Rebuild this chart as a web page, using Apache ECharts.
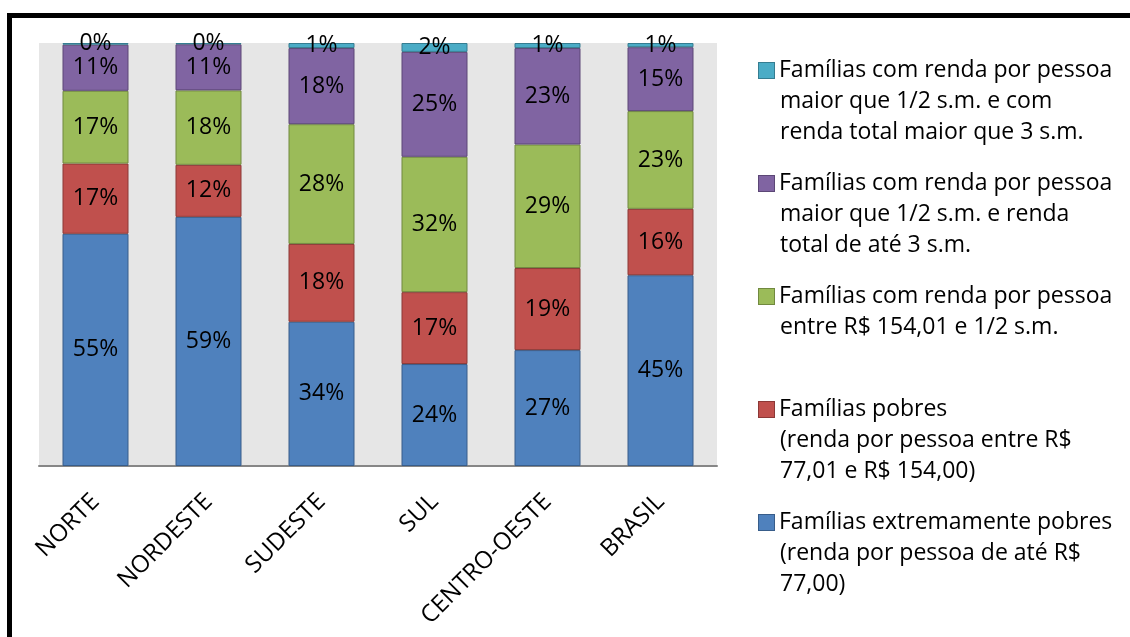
<!DOCTYPE html>
<html>
<head>
<meta charset="utf-8">
<script src="https://cdn.jsdelivr.net/npm/echarts@6/dist/echarts.min.js"></script>
<style>
html,body{margin:0;padding:0;background:#fff;overflow:hidden;}
#chart{position:absolute;left:0;top:0;width:1130px;height:637px;}
#frame{position:absolute;left:7px;top:13px;width:2000px;height:2000px;border:5px solid #000;pointer-events:none;}
</style>
</head>
<body>
<div id="frame"></div>
<div id="chart"></div>
<script>
const categories = ['NORTE', 'NORDESTE', 'SUDESTE', 'SUL', 'CENTRO-OESTE', 'BRASIL'];

const seriesNames = [
  'Famílias extremamente pobres\n(renda por pessoa de até R$\n77,00)',
  'Famílias pobres\n(renda por pessoa entre R$\n77,01 e R$ 154,00)',
  'Famílias com renda por pessoa\nentre R$ 154,01 e 1/2 s.m.\n',
  'Famílias com renda por pessoa\nmaior que 1/2 s.m. e renda\ntotal de até 3 s.m.',
  'Famílias com renda por pessoa\nmaior que 1/2 s.m. e com\nrenda total maior que 3 s.m.'
];

const extremamentePobres = [54.9, 58.9, 34.1, 24.1, 27.4, 45.1];
const pobres             = [16.6, 12.3, 18.4, 17.0, 19.4, 15.7];
const ateMeioSM          = [17.2, 17.6, 28.3, 32.0, 29.2, 23.1];
const ateTresSM          = [10.9, 10.9, 18.0, 24.8, 22.8, 15.1];
const maiorTresSM        = [0.4, 0.3, 1.2, 2.1, 1.2, 1.0];

const seriesValues = [extremamentePobres, pobres, ateMeioSM, ateTresSM, maiorTresSM];
const colors = ['#4f81bd', '#c0504d', '#9bbb59', '#8064a2', '#4bacc6'];
const borders = ['#385d8a', '#8c3836', '#71893f', '#5c4776', '#357d91'];

const FONT = 'Open Sans';
const LH = 31;

const rich = {
  t: { fontFamily: FONT, fontSize: 23, lineHeight: LH, color: '#000' },
  ind: { width: 21, height: 14, lineHeight: LH },
  g: { width: 5, height: 14, lineHeight: LH }
};
colors.forEach((c, i) => {
  rich['sq' + i] = { width: 15, height: 15, backgroundColor: c, borderColor: borders[i], borderWidth: 1, lineHeight: LH };
});

const chart = echarts.init(document.getElementById('chart'), null, { renderer: 'canvas' });

chart.setOption({
  animation: false,
  grid: {
    left: 39, right: 413, top: 43, bottom: 171,
    show: true, backgroundColor: '#e6e6e6', borderWidth: 0
  },
  legend: {
    orient: 'vertical',
    left: 753,
    top: 59,
    padding: 0,
    itemGap: 28,
    itemWidth: 0,
    itemHeight: 0,
    icon: 'rect',
    selectedMode: false,
    data: seriesNames.slice().reverse(),
    formatter: function (name) {
      const idx = seriesNames.indexOf(name);
      const lines = name.split('\n');
      return lines.map((ln, i) => {
        const head = i === 0 ? '{sq' + idx + '|}{g|}' : '{ind|}';
        return ln.length ? head + '{t|' + ln + '}' : '{ind|}';
      }).join('\n');
    },
    textStyle: { rich: rich, fontFamily: FONT, fontSize: 23, color: '#000' }
  },
  xAxis: {
    type: 'category',
    data: categories,
    axisLine: { lineStyle: { color: '#868686', width: 2 } },
    axisTick: { show: false },
    axisLabel: {
      interval: 0, rotate: 45, margin: 32,
      fontFamily: FONT, fontSize: 24, color: '#000'
    }
  },
  yAxis: {
    type: 'value', min: 0, max: 100, show: false,
    splitLine: { show: false }
  },
  series: seriesValues.map((vals, i) => ({
    name: seriesNames[i],
    type: 'bar',
    stack: 'total',
    barWidth: 66,
    data: vals,
    itemStyle: { color: colors[i], borderColor: borders[i], borderWidth: 1 },
    label: {
      show: true,
      position: 'inside',
      fontFamily: FONT,
      fontSize: 23,
      color: '#000',
      formatter: p => Math.round(p.value) + '%'
    }
  }))
});
</script>
</body>
</html>
